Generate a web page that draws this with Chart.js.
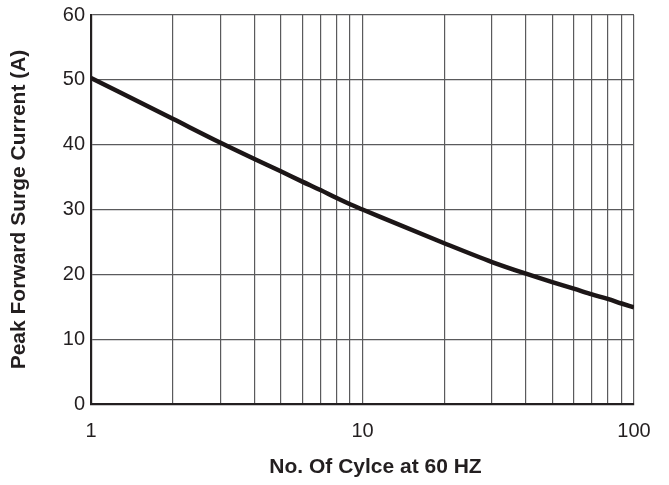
<!DOCTYPE html>
<html>
<head>
<meta charset="utf-8">
<script src="https://cdn.jsdelivr.net/npm/chart.js@4.4.1/dist/chart.umd.min.js"></script>
<style>
  html, body { margin: 0; padding: 0; background: #ffffff; }
  #wrap { width: 669px; height: 485px; position: relative; }
</style>
</head>
<body>
<div id="wrap"><canvas id="c" width="669" height="485"></canvas></div>
<script>
// ---- data ----
const cycles = [1, 2, 3, 4, 5, 6, 7, 8, 9, 10, 20, 30, 40, 50, 60, 70, 80, 90, 100];
const surgeCurrent = [50.3, 44.0, 40.3, 37.8, 35.9, 34.3, 33.0, 31.8, 30.8, 30.0, 24.8, 21.9, 20.1, 18.8, 17.8, 16.9, 16.2, 15.5, 14.9];
const xGridValues = [1, 2, 3, 4, 5, 6, 7, 8, 9, 10, 20, 30, 40, 50, 60, 70, 80, 90, 100];
const xTickLabels = [1, 10, 100];
const yTickValues = [0, 10, 20, 30, 40, 50, 60];
const xTitle = 'No. Of Cylce at 60 HZ';
const yTitle = 'Peak Forward Surge Current (A)';

const FONT = '"Liberation Sans", Arial, Helvetica, sans-serif';
const INK = '#231f20';
const GRID = '#5a5a5c';

const xTitlePlugin = {
  id: 'xTitlePlugin',
  afterDraw(chart) {
    const ctx = chart.ctx;
    const area = chart.chartArea;
    ctx.save();
    ctx.font = 'bold 21px ' + FONT;
    ctx.fillStyle = INK;
    ctx.textAlign = 'center';
    ctx.textBaseline = 'middle';
    ctx.fillText(xTitle, (area.left + area.right) / 2 + 13, 467);
    ctx.restore();
  }
};

new Chart(document.getElementById('c'), {
  type: 'line',
  data: {
    datasets: [{
      data: cycles.map((x, i) => ({ x: x, y: surgeCurrent[i] })),
      borderColor: '#1c1617',
      borderWidth: 4.5,
      pointRadius: 0,
      cubicInterpolationMode: 'monotone',
      fill: false
    }]
  },
  options: {
    responsive: false,
    animation: false,
    devicePixelRatio: 1,
    layout: { padding: { left: 0, top: 15, right: 35, bottom: 0 } },
    plugins: { legend: { display: false }, tooltip: { enabled: false } },
    scales: {
      x: {
        type: 'logarithmic',
        min: 1,
        max: 100,
        afterBuildTicks(scale) {
          scale.ticks = xGridValues.map(v => ({ value: v, major: false }));
        },
        afterFit(scale) { scale.height = 81; scale.paddingLeft = 0; scale.paddingRight = 0; },
        ticks: {
          autoSkip: false,
          maxRotation: 0,
          padding: 15,
          color: INK,
          font: { family: FONT, size: 20 },
          callback(value) { return xTickLabels.includes(value) ? String(value) : ''; }
        },
        grid: { color: GRID, lineWidth: 1.2, drawTicks: false },
        border: { color: INK, width: 2.2 },
        title: { display: false }
      },
      y: {
        type: 'linear',
        min: 0,
        max: 60,
        afterBuildTicks(scale) {
          scale.ticks = yTickValues.map(v => ({ value: v }));
        },
        afterFit(scale) { scale.width = 91; scale.paddingTop = 0; scale.paddingBottom = 0; },
        ticks: {
          padding: 6,
          color: INK,
          font: { family: FONT, size: 20 }
        },
        grid: { color: GRID, lineWidth: 1.2, drawTicks: false },
        border: { color: INK, width: 2.2 },
        title: {
          display: true,
          text: yTitle,
          color: INK,
          font: { family: FONT, size: 21, weight: 'bold' },
          padding: { top: 7, bottom: 0 }
        }
      }
    }
  },
  plugins: [xTitlePlugin]
});
</script>
</body>
</html>
